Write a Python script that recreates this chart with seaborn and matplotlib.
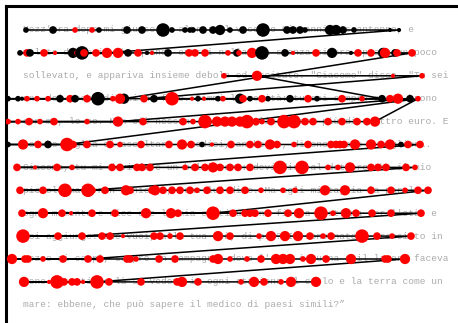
import pandas as pd
import matplotlib
matplotlib.use("Agg")
import matplotlib.pyplot as plt
import seaborn as sns

# text on the screen, one entry per line
TEXT_LINES = [
    "Mezz'ora dopo mi giunse un altro: il vecchio Giovanni sessantenne, e",
    "malato da mesi, che quando entrai nella sua stanza si era appena un poco",
    "sollevato, e appariva insieme debole ed eccitato. \"Giacomo\" disse. \"Tu sei",
    "uno dei pochi di cui mi fido. Dimmi la verità: tu sei sempre stato buono",
    "con me, lo so. Non c'è nessuno che mi voglia pagare più di quattro euro. E",
    "non ho voglia di ascoltare i medici, anche se, dicono, sono i migliori.",
    "Giacomo, tu mi devi fare un bel favore: devi dire al dottore che il mio",
    "piccolo male non è niente, come lui dice. Ma egli mi taglia la parola a",
    "ogni momento e dice che la mia costituzione fisica è ottima per l'età: e",
    "poi aggiunge: che vuoi, alla tua età, di più? Io sono nato e cresciuto in",
    "mezzo ai campi, sempre in campagna, dove l'aria è buona e il lavoro faceva",
    "bene a tutti, e là si vedeva in ogni stagione il cielo e la terra come un",
    "mare: ebbene, che può sapere il medico di paesi simili?\u201d",
]

# fixations in reading order, grouped by visit of a line
# x = screen px, dur = ms, kind: k first pass / r re-reading
v01_x = [26, 53, 75, 92, 99, 127, 142, 163, 172, 185, 190, 193, 203, 213, 220, 230,
         243, 263, 287, 293, 300, 305, 330, 336, 343, 354, 390, 399]
v01_dur = [110, 165, 110, 110, 110, 165, 165, 420, 110, 110, 110, 110, 165, 165, 260, 110,
           165, 420, 165, 165, 165, 110, 260, 260, 165, 110, 80, 80]
v01_kind = "kkrrkkkkkkkkkkkkkkkkkkkkkkkk"

v02_x = [107, 20, 27, 30, 44, 55, 73, 77, 82, 84, 96, 118, 128, 138, 147, 152, 168, 189,
         195, 205, 228, 237, 239, 252, 262, 285, 293, 316, 332, 351, 358, 371, 383, 385,
         395, 397, 412]
v02_dur = [260, 110, 165, 165, 165, 80, 260, 110, 420, 165, 165, 260, 165, 165, 80, 80, 165, 165,
           165, 165, 110, 165, 110, 260, 420, 165, 80, 165, 260, 80, 165, 165, 260, 260,
           165, 165, 165]
v02_kind = "rkrkrrkrkrrrkrkrkrrrrkrrkkrrkkrrkrkrr"

v03_x = [124, 8, 18, 22, 27, 37, 48, 60, 70, 75, 87, 98, 113, 120, 154, 198, 218, 240,
         250, 268, 290, 317, 382]
v03_dur = [260, 110, 110, 80, 110, 110, 110, 165, 165, 165, 165, 420, 110, 260, 165, 110, 110, 260,
           110, 110, 165, 110, 165]
v03_kind = "kkkkrrrkrkrkrrkkkkkkkkk"

v04_x = [257, 224, 393, 422]
v04_dur = [260, 110, 80, 110]
v04_kind = "rrrr"

v05_x = [144, 172, 192, 204, 223, 243, 262, 308, 342, 362, 390, 398, 410]
v05_dur = [165, 420, 80, 80, 110, 165, 165, 165, 165, 110, 165, 260, 165]
v05_kind = "rrrrrrrrrrrrk"

v06_x = [118, 8, 18, 29, 40, 54, 87, 143, 183, 193, 205, 217, 225, 232, 240, 247, 256,
         262, 271, 284, 294, 305, 313, 328, 342, 357, 367, 375]
v06_dur = [260, 110, 110, 165, 110, 165, 110, 165, 165, 110, 420, 260, 260, 260, 260, 420, 165,
           110, 165, 420, 420, 165, 165, 165, 165, 165, 165, 260]
v06_kind = "rrrrrrrrrrrrrrrrrrrrrrrrrrrr"

v07_x = [418]
v07_dur = [110]
v07_kind = "r"

v08_x = [67, 8, 23, 38, 48, 73, 87, 110, 120, 141, 169, 182, 191, 202, 212, 231, 250, 258,
         270, 277, 294, 308, 331, 336, 340, 344, 355, 371, 381, 390, 401, 408, 420]
v08_dur = [420, 110, 260, 165, 165, 165, 165, 165, 110, 165, 165, 260, 165, 110, 80, 165, 165, 165,
           260, 165, 110, 165, 165, 165, 165, 165, 260, 260, 165, 260, 110, 165, 165]
v08_kind = "rkrrkrrrrrrrrkrrrrrrrrrrrrrrrrkrr"

v09_x = [112, 17, 35, 57, 72, 120, 137, 142, 150, 185, 195, 205, 213, 220, 230, 238, 250,
         280, 302, 328, 338, 350, 371, 378, 386, 406, 415]
v09_dur = [165, 165, 80, 165, 110, 165, 165, 165, 165, 110, 165, 165, 260, 165, 165, 165, 165,
           420, 420, 110, 110, 260, 165, 165, 165, 165, 110]
v09_kind = "rrrrrrrrrrrrrrrrrrrrrrrrrrr"

v10_x = [88, 20, 43, 65, 92, 105, 126, 130, 152, 155, 163, 172, 180, 190, 197, 207, 220,
         230, 245, 261, 283, 295, 325, 345, 371, 391, 405, 418, 428]
v10_dur = [420, 165, 165, 420, 165, 165, 260, 165, 165, 260, 165, 165, 165, 165, 110, 165, 165,
           165, 165, 110, 110, 110, 260, 260, 165, 165, 110, 165, 165]
v10_kind = "rrrrrrrrrrrrrrrrrrrrrrrrrrrrr"

v11_x = [213, 22, 43, 62, 71, 92, 115, 146, 171, 178, 233, 245, 250, 255, 268, 288, 299,
         321, 333, 346, 356, 372, 391, 421]
v11_dur = [420, 165, 260, 165, 80, 165, 165, 260, 260, 165, 165, 165, 165, 165, 165, 165, 260,
           420, 110, 260, 165, 165, 165, 165]
v11_kind = "rrrrrrrrrrrrrrrrrrrrrrrr"

v12_x = [82, 23, 58, 102, 110, 123, 154, 160, 170, 180, 218, 230, 259, 271, 285, 298, 310,
         323, 331, 362, 377, 392, 411]
v12_dur = [165, 420, 165, 165, 165, 80, 165, 165, 110, 165, 260, 165, 110, 260, 260, 260, 165,
           110, 165, 420, 165, 110, 165]
v12_kind = "rrrrrrrrrrrrrrrrrrrrrrr"

v13_x = [88, 12, 25, 28, 43, 63, 100, 127, 130, 136, 159, 175, 213, 218, 230, 247, 261,
         276, 283, 290, 303, 311, 326, 351, 385, 388, 405]
v13_dur = [165, 260, 165, 165, 110, 165, 165, 165, 165, 110, 165, 165, 165, 260, 110, 110, 165,
           260, 260, 260, 110, 260, 165, 260, 165, 165, 260]
v13_kind = "rrrrrrrrrrrrrrrrrrrrrrrrrrr"

v14_x = [97, 24, 49, 57, 64, 72, 77, 83, 109, 141, 177, 182, 198, 241, 254, 264, 281, 291, 316]
v14_dur = [420, 260, 80, 420, 165, 165, 165, 80, 165, 165, 165, 260, 165, 110, 260, 165, 110, 260, 260]
v14_kind = "rrrrrrrrrrrrrrrrrrr"

# (text line, x, dur, kind)
VISITS = [
    (0, v01_x, v01_dur, v01_kind), (1, v02_x, v02_dur, v02_kind),
    (3, v03_x, v03_dur, v03_kind), (2, v04_x, v04_dur, v04_kind),
    (3, v05_x, v05_dur, v05_kind), (4, v06_x, v06_dur, v06_kind),
    (3, v07_x, v07_dur, v07_kind), (5, v08_x, v08_dur, v08_kind),
    (6, v09_x, v09_dur, v09_kind), (7, v10_x, v10_dur, v10_kind),
    (8, v11_x, v11_dur, v11_kind), (9, v12_x, v12_dur, v12_kind),
    (10, v13_x, v13_dur, v13_kind), (11, v14_x, v14_dur, v14_kind),
]

rows = []
for line, xs, durs, kinds in VISITS:
    for x, d, k in zip(xs, durs, kinds):
        rows.append({"x": x, "line": line, "dur": d, "kind": k})
fix = pd.DataFrame(rows)

sns.set_style("white")

fig = plt.figure(figsize=(4.58, 3.23), dpi=100)
ax = fig.add_axes([6 / 458, 0, 452 / 458, 317 / 323])

# line pitch 22.9 px, first line 24 px below the frame
ax.set_xlim(6, 458)
ax.set_ylim(12.795, -1.048)

for i, t in enumerate(TEXT_LINES):
    ax.text(23, i, t, family="Liberation Mono", fontsize=6.8, color="#ababab",
            va="center", ha="left", zorder=1)

sns.lineplot(data=fix, x="x", y="line", sort=False, estimator=None, color="black",
             lw=1.1, ax=ax, zorder=2)
sns.scatterplot(data=fix, x="x", y="line", hue="kind", size="dur",
                palette={"k": "black", "r": "red"}, sizes=(9, 95), size_norm=(80, 420),
                linewidth=0, alpha=1, legend=False, ax=ax, zorder=3)

ax.set_xlabel("")
ax.set_ylabel("")
ax.set_xticks([])
ax.set_yticks([])
for side in ["right", "bottom"]:
    ax.spines[side].set_visible(False)
for side in ["left", "top"]:
    ax.spines[side].set_linewidth(2.2)
    ax.spines[side].set_color("black")

fig.savefig("out.png", dpi=100)
